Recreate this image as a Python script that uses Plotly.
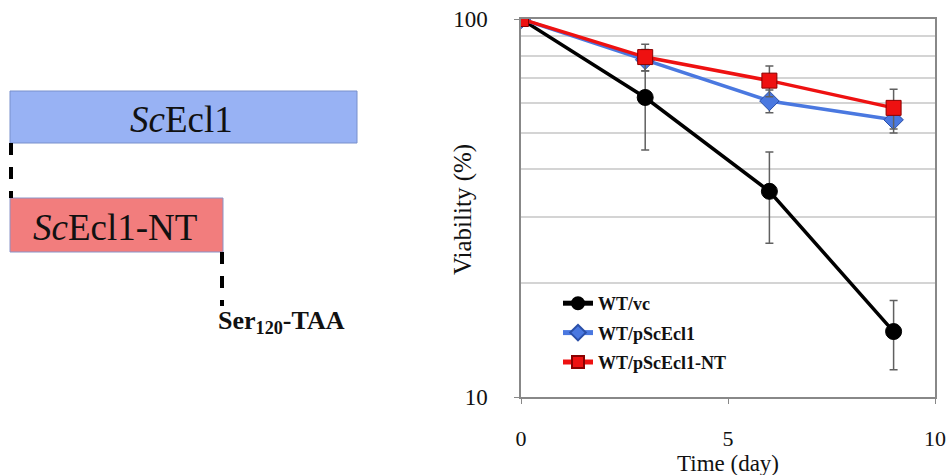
import plotly.graph_objects as go

W, H = 949, 475

# Viability time course
days = [0, 3, 6, 9]
series_names = ["WT/vc", "WT/pScEcl1", "WT/pScEcl1-NT"]
vc_mean = [100, 62, 35, 14.9]
vc_err = [0, 17, 9.5, 3.1]
ecl1_mean = [100, 78, 60.7, 54.1]
ecl1_err = [0, 5, 4.2, 4.2]
nt_mean = [100, 79.3, 68.7, 58.2]
nt_err = [0, 6.5, 6.4, 7.0]

x_ticks = [0, 5, 10]
y_ticks = [10, 100]
y_minor = [20, 30, 40, 50, 60, 70, 80, 90]

SERIF = "Liberation Serif"


def px_x(p):
    return p / W


def px_y(p):
    return 1 - p / H


fig = go.Figure()

styles = [
    (vc_mean, vc_err, "#000000", "circle", 16, "#000000"),
    (ecl1_mean, ecl1_err, "#4a78e0", "diamond", 15, "#2a4fa8"),
    (nt_mean, nt_err, "#ee1111", "square", 15, "#8a0000"),
]
for name, (mean, err, col, sym, size, edge) in zip(series_names, styles):
    fig.add_trace(go.Scatter(
        x=days, y=mean, name=name, legendgroup=name, mode="lines+markers",
        line=dict(color=col, width=3.5),
        marker=dict(symbol=sym, size=size, color=col,
                    line=dict(color=edge, width=1)),
        error_y=dict(type="data", array=err, visible=True,
                     color="#606060", thickness=1.5, width=4),
    ))

fig.update_layout(
    width=W, height=H,
    margin=dict(l=0, r=0, t=0, b=0, autoexpand=False),
    paper_bgcolor="white", plot_bgcolor="white",
    font=dict(family=SERIF, color="#111111"),
    showlegend=True,
    legend=dict(
        x=px_x(558), y=px_y(285), xanchor="left", yanchor="top",
        bgcolor="white", font=dict(family=SERIF, size=18, color="#111111", weight="bold"),
        itemwidth=30, tracegroupgap=3, itemsizing="constant",
    ),
    xaxis=dict(
        domain=[px_x(521), px_x(935)], range=[0, 10], automargin=False,
        tickvals=x_ticks, ticks="outside", ticklen=5, tickcolor="#888888",
        showgrid=False, zeroline=False,
        showline=True, linecolor="#888888", linewidth=1.5, mirror=True,
        tickfont=dict(size=22, family=SERIF), ticklabelstandoff=16,
    ),
    yaxis=dict(
        domain=[px_y(397), px_y(19)], type="log", range=[1, 2], automargin=False,
        tickvals=y_ticks, ticks="outside", ticklen=5, tickcolor="#888888",
        showgrid=False, zeroline=False,
        showline=True, linecolor="#888888", linewidth=1.5, mirror=True,
        tickfont=dict(size=23, family=SERIF), ticklabelstandoff=22,
        minor=dict(tickvals=y_minor, showgrid=True, gridcolor="#d4d4d4",
                   gridwidth=1.5, ticks=""),
    ),
)

# Axis titles
fig.add_annotation(text="Time (day)", xref="paper", yref="paper",
                   x=px_x(728), y=px_y(463), xanchor="center", yanchor="middle",
                   showarrow=False, font=dict(family=SERIF, size=23, color="#111111"))
fig.add_annotation(text="Viability (%)", xref="paper", yref="paper",
                   x=px_x(463), y=px_y(210), xanchor="center", yanchor="middle",
                   textangle=-90, showarrow=False,
                   font=dict(family=SERIF, size=25, color="#111111"))

# Construct schematic on the left
shapes = [
    dict(type="rect", xref="paper", yref="paper",
         x0=px_x(10), x1=px_x(357), y0=px_y(143), y1=px_y(91),
         fillcolor="#98b2f4", line=dict(color="#7890cc", width=1)),
    dict(type="rect", xref="paper", yref="paper",
         x0=px_x(10), x1=px_x(223), y0=px_y(252), y1=px_y(198),
         fillcolor="#f27d7d", line=dict(color="#8a94c8", width=1)),
    dict(type="line", xref="paper", yref="paper",
         x0=px_x(11), x1=px_x(11), y0=px_y(143), y1=px_y(198),
         line=dict(color="black", width=4, dash="dash")),
    dict(type="line", xref="paper", yref="paper",
         x0=px_x(222), x1=px_x(222), y0=px_y(252), y1=px_y(306),
         line=dict(color="black", width=4, dash="dash")),
]
fig.update_layout(shapes=shapes)

fig.add_annotation(text="<i>Sc</i>Ecl1", xref="paper", yref="paper",
                   x=px_x(181), y=px_y(119), xanchor="center", yanchor="middle",
                   showarrow=False,
                   font=dict(family=SERIF, size=37, color="#111111"))
fig.add_annotation(text="<i>Sc</i>Ecl1-NT", xref="paper", yref="paper",
                   x=px_x(115), y=px_y(227), xanchor="center", yanchor="middle",
                   showarrow=False,
                   font=dict(family=SERIF, size=37, color="#111111"))
fig.add_annotation(text="<b>Ser<sub>120</sub>-TAA</b>", xref="paper", yref="paper",
                   x=px_x(216), y=px_y(322), xanchor="left", yanchor="middle",
                   showarrow=False,
                   font=dict(family=SERIF, size=26, color="#111111"))

fig.write_html("out.html")
